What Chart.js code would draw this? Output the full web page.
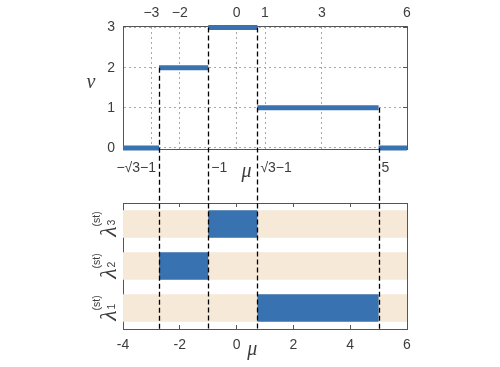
<!DOCTYPE html>
<html>
<head>
<meta charset="utf-8">
<title>nu step and lambda rows</title>
<script src="https://cdn.jsdelivr.net/npm/chart.js@4.4.0/dist/chart.umd.min.js"></script>
<style>
  body { margin: 0; background: #fff; }
  #wrap { position: relative; width: 500px; height: 367px; }
  #wrap canvas { position: absolute; left: 0; top: 0; }
</style>
</head>
<body>
<div id="wrap">
  <canvas id="topc" width="500" height="367"></canvas>
  <canvas id="botc" width="500" height="367"></canvas>
</div>
<script>
// step function nu(mu): interval edges and the value on each interval
var muEdges = [-4, -2.732, -1, 0.732, 5, 6];
var nuValues = [0, 2, 3, 1, 0];
var breakLabels = ['−√3−1', '−1', '√3−1', '5'];   // at muEdges[1..4]
var topTicks = [-3, -2, 0, 1, 3, 6];
var nuTicks = [0, 1, 2, 3];
var bottomTicks = [-4, -2, 0, 2, 4, 6];
// lambda rows, top to bottom
var rowSubs = ['3', '2', '1'];
var rowRanges = [[-1, 0.732], [-2.732, -1], [0.732, 5]];
var bandRange = [-4, 6];

var BLUE = '#3872b0';
var BEIGE = '#f6e9d8';
var FRAME = '#555555';
var GRID = '#a8a8a8';
var TEXT = '#3d3d3d';

Chart.defaults.font.family = '"Liberation Sans", Arial, sans-serif';
Chart.defaults.font.size = 14;
Chart.defaults.color = TEXT;

function setTicks(list) {
    return function (s) { s.ticks = list.map(function (v) { return {value: v}; }); };
}
function minus(v) { return String(v).replace('-', '−'); }

var segs = [];
for (var i = 0; i < nuValues.length; i++) {
    segs.push({
        data: [{x: muEdges[i], y: nuValues[i]}, {x: muEdges[i + 1], y: nuValues[i]}],
        borderColor: BLUE,
        borderWidth: 5,
        borderCapStyle: 'butt',
        pointRadius: 0,
        clip: false
    });
}

var topText = {
    id: 'topText',
    afterDraw: function (chart) {
        var ctx = chart.ctx, xs = chart.scales.x, a = chart.chartArea;
        ctx.save();
        ctx.fillStyle = TEXT;
        ctx.font = '14px "Liberation Sans", Arial, sans-serif';
        ctx.textBaseline = 'middle';
        for (var k = 0; k < breakLabels.length; k++) {
            var px = xs.getPixelForValue(muEdges[k + 1]);
            if (k === 0) { ctx.textAlign = 'right'; ctx.fillText(breakLabels[k], px - 3, a.bottom + 19); }
            else { ctx.textAlign = 'left'; ctx.fillText(breakLabels[k], px + 3, a.bottom + 19); }
        }
        ctx.font = 'italic 20px "Liberation Serif", serif';
        ctx.textAlign = 'center';
        ctx.textBaseline = 'alphabetic';
        ctx.fillText('μ', xs.getPixelForValue(0.35), a.bottom + 28);
        ctx.fillText('ν', a.left - 32, (a.top + a.bottom) / 2);
        ctx.restore();
    }
};

var topChart = new Chart(document.getElementById('topc'), {
    type: 'line',
    data: {datasets: segs},
    options: {
        responsive: false,
        animation: false,
        events: [],
        layout: {padding: 0},
        plugins: {legend: {display: false}, tooltip: {enabled: false}},
        scales: {
            x: {
                type: 'linear', position: 'bottom', min: -4, max: 6,
                afterBuildTicks: setTicks(muEdges.slice(1, 5)),
                ticks: {display: false},
                grid: {display: false},
                border: {color: FRAME},
                afterFit: function (s) { s.height = 218; }
            },
            x2: {
                type: 'linear', position: 'top', min: -4, max: 6,
                afterBuildTicks: setTicks(topTicks),
                ticks: {padding: 4, callback: minus},
                grid: {color: GRID, drawTicks: false},
                border: {color: FRAME, dash: [2, 3]},
                afterFit: function (s) { s.height = 26; }
            },
            y: {
                min: -0.025, max: 3.037,
                afterBuildTicks: setTicks(nuTicks),
                ticks: {padding: 8},
                grid: {color: GRID, drawTicks: false},
                border: {color: FRAME, dash: [2, 3]},
                afterFit: function (s) { s.width = 123; }
            },
            y2: {
                position: 'right', min: -0.025, max: 3.037,
                afterBuildTicks: setTicks(nuTicks),
                ticks: {callback: function () { return ''; }},
                grid: {drawOnChartArea: false, tickLength: -4, tickColor: FRAME},
                border: {color: FRAME},
                afterFit: function (s) { s.width = 93; }
            }
        }
    },
    plugins: [topText]
});

function drawLambda(ctx, cx, cy, sub) {
    ctx.save();
    ctx.translate(cx, cy);
    ctx.rotate(-Math.PI / 2);
    var big = 'italic 24px "Liberation Serif", serif';
    var small = '10.5px "Liberation Sans", Arial, sans-serif';
    ctx.font = big;
    var wl = ctx.measureText('λ').width;
    ctx.font = small;
    var ws = ctx.measureText('(st)').width;
    var x0 = -(wl + ws) / 2;
    ctx.textAlign = 'left';
    ctx.textBaseline = 'alphabetic';
    ctx.font = big;
    ctx.fillText('λ', x0, 8);
    ctx.font = small;
    ctx.fillText('(st)', x0 + wl, -8);
    ctx.fillText(sub, x0 + wl + 1, 7);
    ctx.restore();
}

var bottomText = {
    id: 'bottomText',
    afterDraw: function (chart) {
        var ctx = chart.ctx, xs = chart.scales.x, ys = chart.scales.y, a = chart.chartArea;
        var ty = topChart.scales.y;
        ctx.save();
        // dashed connectors from the step edges down through both panels
        ctx.strokeStyle = '#000';
        ctx.lineWidth = 1.3;
        ctx.setLineDash([5, 3]);
        for (var k = 1; k < muEdges.length - 1; k++) {
            var px = Math.round(xs.getPixelForValue(muEdges[k])) + 0.5;
            var y0 = Math.max(ty.getPixelForValue(Math.max(nuValues[k - 1], nuValues[k])), topChart.chartArea.top);
            ctx.beginPath();
            ctx.moveTo(px, y0);
            ctx.lineTo(px, a.bottom);
            ctx.stroke();
        }
        ctx.setLineDash([]);
        ctx.fillStyle = TEXT;
        for (var r = 0; r < rowSubs.length; r++) {
            drawLambda(ctx, a.left - 15, ys.getPixelForValue(r), rowSubs[r]);
        }
        ctx.font = 'italic 20px "Liberation Serif", serif';
        ctx.textAlign = 'center';
        ctx.fillText('μ', xs.getPixelForValue(0.55), a.bottom + 26);
        ctx.restore();
    }
};

var bandData = rowSubs.map(function () { return bandRange; });

new Chart(document.getElementById('botc'), {
    type: 'bar',
    data: {
        labels: rowSubs,
        datasets: [
            {data: bandData, backgroundColor: BEIGE, order: 2, grouped: false,
             barPercentage: 0.65, categoryPercentage: 1, borderWidth: 0},
            {data: rowRanges, backgroundColor: BLUE, order: 1, grouped: false,
             barPercentage: 0.65, categoryPercentage: 1, borderWidth: 0}
        ]
    },
    options: {
        indexAxis: 'y',
        responsive: false,
        animation: false,
        events: [],
        layout: {padding: 0},
        plugins: {legend: {display: false}, tooltip: {enabled: false}},
        scales: {
            x: {
                type: 'linear', position: 'bottom', min: -4, max: 6,
                afterBuildTicks: setTicks(bottomTicks),
                ticks: {padding: 12},
                grid: {drawOnChartArea: false, tickLength: -4, tickColor: FRAME},
                border: {color: FRAME},
                afterFit: function (s) { s.height = 38; }
            },
            x2: {
                type: 'linear', position: 'top', min: -4, max: 6,
                afterBuildTicks: setTicks(bottomTicks),
                ticks: {callback: function () { return ''; }},
                grid: {drawOnChartArea: false, tickLength: -4, tickColor: FRAME},
                border: {color: FRAME},
                afterFit: function (s) { s.height = 203; }
            },
            y: {
                type: 'category', offset: true,
                ticks: {callback: function () { return ''; }},
                grid: {offset: false, drawOnChartArea: false, tickLength: -4, tickColor: FRAME},
                border: {color: FRAME},
                afterFit: function (s) { s.width = 123; }
            },
            y2: {
                type: 'category', position: 'right', offset: true,
                ticks: {callback: function () { return ''; }},
                grid: {offset: false, drawOnChartArea: false, tickLength: -4, tickColor: FRAME},
                border: {color: FRAME},
                afterFit: function (s) { s.width = 93; }
            }
        }
    },
    plugins: [bottomText]
});
</script>
</body>
</html>
